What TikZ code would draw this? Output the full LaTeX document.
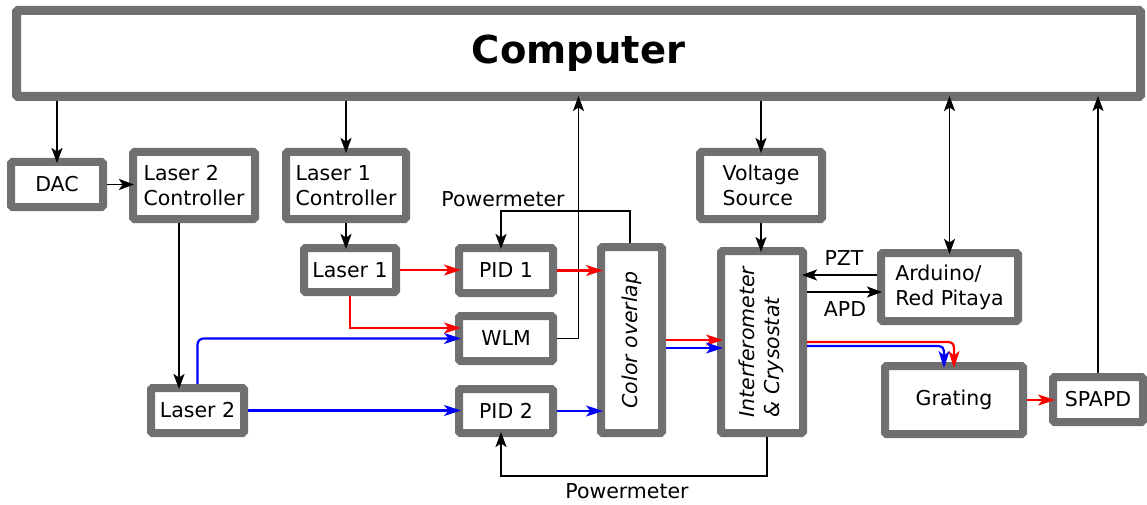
\documentclass[tikz,border=0pt]{standalone}
\usepackage{fontspec}
\setmainfont{DejaVu Sans}
\usepackage{graphicx}
\usetikzlibrary{arrows.meta}
\definecolor{boxgray}{RGB}{112,112,112}
\definecolor{lred}{RGB}{255,0,0}
\definecolor{lblue}{RGB}{0,0,255}
\tikzset{
  box/.style={draw=boxgray, line width=8pt, fill=white, rounded corners=1.5pt,
    inner sep=0pt, align=left},
  btip/.tip={Stealth[length=15pt,width=11pt,inset=3.5pt]},
  ctip/.tip={Stealth[length=17pt,width=11pt,inset=4.5pt]},
  arr/.style={draw=black, line width=1.8pt, -btip, shorten >=-5pt},
  darr/.style={draw=black, line width=1.8pt, btip-btip, shorten >=-5pt, shorten <=-5pt},
  rarr/.style={draw=lred, line width=2.2pt, -ctip, shorten >=-6pt},
  barr/.style={draw=lblue, line width=2.2pt, -ctip, shorten >=-6pt},
  lbl/.style={inner sep=0pt},
}
\begin{document}
\begin{tikzpicture}[x=1pt,y=-1pt,font=\fontsize{20.5}{25}\selectfont]
\useasboundingbox (0,0) rectangle (1147,505);
\fill[white] (0,0) rectangle (1147,505);

% boxes
\node[box, line width=9pt, minimum width=1124pt, minimum height=86pt,
  font=\fontsize{38.5}{44}\selectfont\bfseries] (comp) at (578.5,53.5) {Computer};
\node[box, minimum width=92pt, minimum height=45pt] (dac) at (57,184.5) {DAC};
\node[box, minimum width=122pt, minimum height=67pt] (l2c) at (194,185.5) {Laser 2\\Controller};
\node[box, minimum width=120pt, minimum height=67pt] (l1c) at (346,185.5) {Laser 1\\Controller};
\node[box, minimum width=92pt, minimum height=44pt] (laser1) at (350,270) {Laser 1};
\node[box, minimum width=94pt, minimum height=45pt] (pid1) at (506,270.5) {PID 1};
\node[box, minimum width=94pt, minimum height=45pt] (wlm) at (506,338.5) {WLM};
\node[box, minimum width=94pt, minimum height=44pt] (pid2) at (506,411) {PID 2};
\node[box, minimum width=93pt, minimum height=45pt] (laser2) at (197.5,410.5) {Laser 2};
\node[box, minimum width=61pt, minimum height=186pt] (color) at (631.5,340)
  {\rotatebox{90}{\itshape Color overlap}};
\node[box, minimum width=82pt, minimum height=182pt] (interf) at (762,342)
  {\rotatebox{90}{\itshape\begin{tabular}{@{}l@{}}Interferometer\\ \& Crysostat\end{tabular}}};
\node[box, minimum width=122pt, minimum height=67pt] (volt) at (761,185.5) {Voltage\\Source};
\node[box, minimum width=137pt, minimum height=68pt] (ard) at (949.5,287) {Arduino/\\Red Pitaya};
\node[box, minimum width=138pt, minimum height=68pt] (grating) at (954,400) {Grating};
\node[box, minimum width=90pt, minimum height=45pt] (spapd) at (1098,399.5) {SPAPD};

% labels
\node[lbl] (pmtop) at (503,199) {Powermeter};
\node[lbl] (pmbot) at (627,491) {Powermeter};
\node[lbl] (pzt) at (844,258) {PZT};
\node[lbl] (apd) at (845,309) {APD};

% black connectors
\draw[arr] (dac |- comp.south) -- (dac.north);
\draw[arr] (dac.east) -- (l2c.west |- dac.east);
\draw[arr] (l1c |- comp.south) -- (l1c.north);
\draw[arr] (l1c.south) -- (l1c.south |- laser1.north);
\coordinate (l2down) at ([xshift=-15pt]l2c.south);
\draw[arr] (l2down) -- (l2down |- laser2.north);
\draw[arr] (wlm.east) -| (comp.south);
\draw[arr] ([xshift=-1.5pt]color.north) -- ++(0,-32) -| ([xshift=-5pt]pid1.north);
\draw[arr] ([xshift=5pt]interf.south) -- ++(0,39) -| ([xshift=-5pt]pid2.south);
\draw[arr] (volt |- comp.south) -- (volt.north);
\draw[arr] (volt.south) -- (volt.south |- interf.north);
\draw[darr] (ard.north) -- (ard.north |- comp.south);
\coordinate (pztA) at ([yshift=12pt]ard.west);
\draw[arr] (pztA) -- (pztA -| interf.east);
\coordinate (apdA) at ([yshift=-5pt]ard.west);
\draw[arr] (apdA -| interf.east) -- (apdA);
\draw[arr] (spapd.north) -- (spapd.north |- comp.south);

% red beams
\draw[rarr] (laser1.east) -- (pid1.west |- laser1.east);
\draw[rarr] (pid1.east) -- (color.west |- pid1.east);
\draw[rarr] (laser1.south) |- ([yshift=10.5pt]wlm.west);
\draw[rarr] (color.east) -- (interf.west |- color.east);
\draw[rarr, rounded corners=5pt] (interf.east) -| (grating.north);
\draw[rarr] (grating.east) -- (spapd.west |- grating.east);

% blue beams
\draw[barr, rounded corners=6pt] (laser2.north) |- (wlm.west);
\draw[barr] (laser2.east) -- (pid2.west |- laser2.east);
\draw[barr] (pid2.east) -- (color.west |- pid2.east);
\coordinate (cb) at ([yshift=-8pt]color.east);
\draw[barr] (cb) -- (cb -| interf.west);
\coordinate (ib) at ([yshift=-4pt]interf.east);
\draw[barr, rounded corners=5pt] (ib) -| ([xshift=-10pt]grating.north);
\end{tikzpicture}
\end{document}
